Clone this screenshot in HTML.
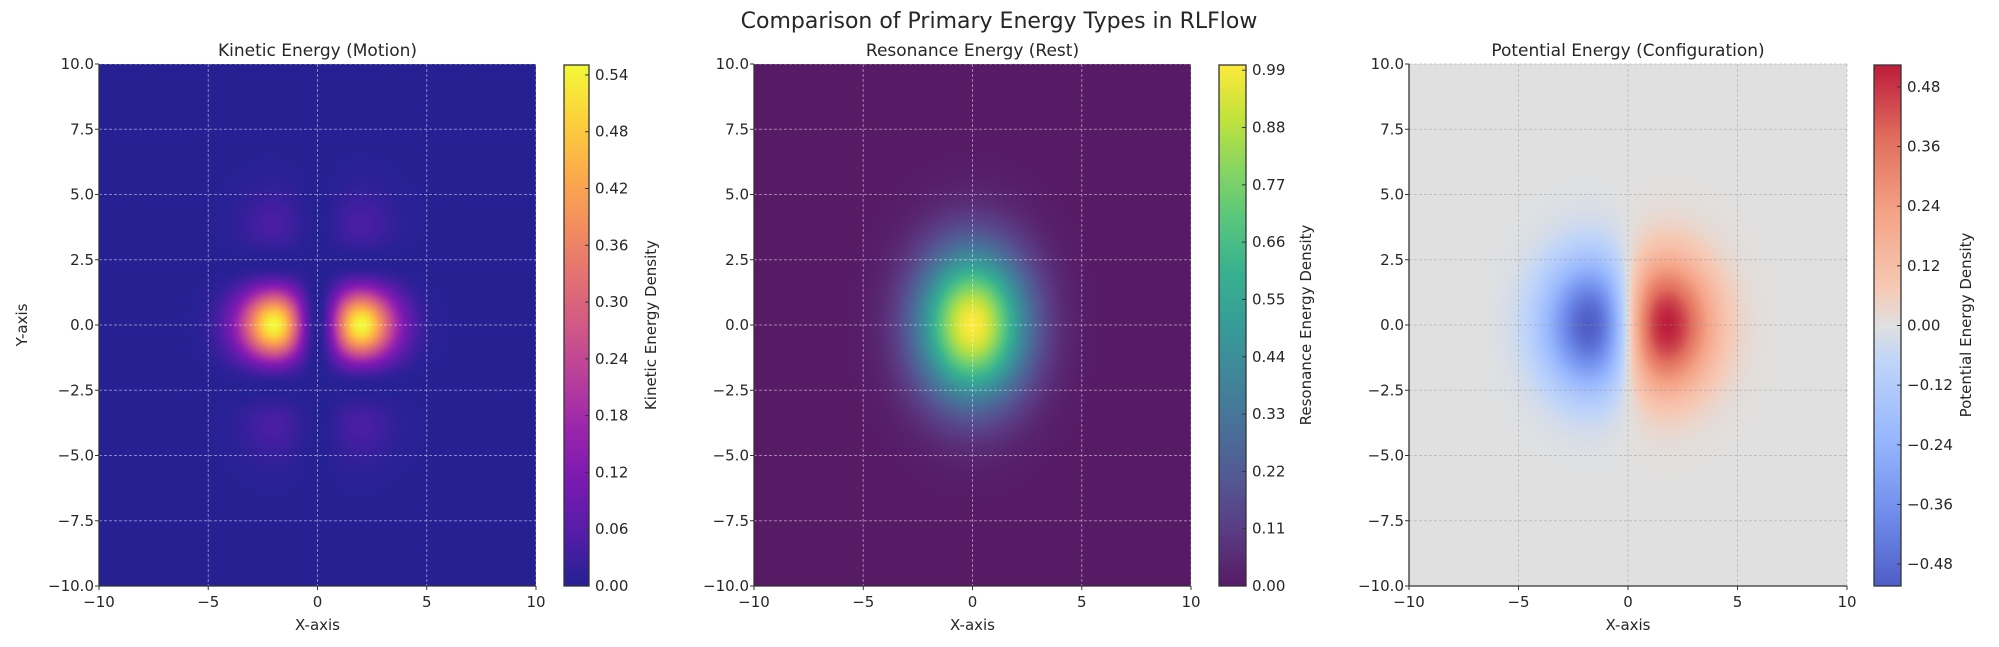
<!DOCTYPE html>
<html><head><meta charset="utf-8">
<style>
html,body{margin:0;padding:0;background:#fff;}
#wrap{position:relative;width:1999px;height:647px;overflow:hidden;font-family:"DejaVu Sans","Liberation Sans",sans-serif;}
canvas{position:absolute;}
svg{position:absolute;left:0;top:0;}
</style></head>
<body><div id="wrap">
<canvas id="c1" width="437" height="522" style="left:99px;top:64px"></canvas>
<canvas id="c2" width="437" height="522" style="left:754px;top:64px"></canvas>
<canvas id="c3" width="438" height="522" style="left:1409px;top:64px"></canvas>
<canvas id="b1" width="25" height="521" style="left:564px;top:65px"></canvas>
<canvas id="b2" width="27" height="521" style="left:1219px;top:65px"></canvas>
<canvas id="b3" width="27" height="521" style="left:1874px;top:65px"></canvas>
<svg id="s" width="1999" height="647" xmlns="http://www.w3.org/2000/svg"></svg>
</div>
<script>
(function(){
function hex(h){return [parseInt(h.substr(1,2),16),parseInt(h.substr(3,2),16),parseInt(h.substr(5,2),16)];}
var plasma=["#0d0887","#41049d","#6a00a8","#8f0da4","#b12a90","#cc4778","#e16462","#f2844b","#fca636","#fcce25","#f0f921"].map(hex);
var viridis=["#440154","#482475","#414487","#355f8d","#2a788e","#21918c","#22a884","#44bf70","#7ad151","#bddf26","#fde725"].map(hex);
var cw=[[59,76,192],[98,130,234],[141,176,254],[184,208,249],[221,221,221],[245,196,173],[244,154,123],[222,96,77],[180,4,38]];
var cwp=[0,0.143,0.286,0.429,0.5,0.571,0.714,0.857,1];
function cmapU(st,t){t=Math.max(0,Math.min(1,t));var n=st.length-1,f=t*n,i=Math.min(n-1,Math.floor(f)),u=f-i;return [0,1,2].map(function(k){return st[i][k]+(st[i+1][k]-st[i][k])*u;});}
function cmapCW(t){t=Math.max(0,Math.min(1,t));var i=0;while(i<cwp.length-2&&t>cwp[i+1])i++;var u=(t-cwp[i])/(cwp[i+1]-cwp[i]);return [0,1,2].map(function(k){return cw[i][k]+(cw[i+1][k]-cw[i][k])*u;});}
function blend(c){return c.map(function(v){return Math.round(v*0.9+25.5);});}
function K(x,y){var gx=x*x*Math.exp(-x*x/4)/(4*Math.exp(-1));var gy=Math.exp(-y*y/4.5)*Math.pow(1-y*y/6,2);return 0.55*gx*gy;}
function R(x,y){return Math.exp(-(x*x/6+y*y/8));}
function P(x,y){return 0.477*x*Math.exp(-x*x/6.5-y*y/6);}
function draw(id,f,col){var c=document.getElementById(id),ctx=c.getContext('2d'),W=c.width,H=c.height,im=ctx.createImageData(W,H);
for(var j=0;j<H;j++){var y=10-20*(j+0.5)/H;for(var i=0;i<W;i++){var x=-10+20*(i+0.5)/W;var cc=blend(col(f(x,y)));var p=(j*W+i)*4;im.data[p]=cc[0];im.data[p+1]=cc[1];im.data[p+2]=cc[2];im.data[p+3]=255;}}ctx.putImageData(im,0,0);}
draw('c1',K,function(v){return cmapU(plasma,v/0.5505);});
draw('c2',R,function(v){return cmapU(viridis,v/1.0);});
draw('c3',P,function(v){return cmapCW((v+0.524)/1.048);});
function bar(id,col){var c=document.getElementById(id),ctx=c.getContext('2d'),W=c.width,H=c.height;for(var j=0;j<H;j++){var cc=blend(col(1-(j+0.5)/H));ctx.fillStyle='rgb('+cc.join(',')+')';ctx.fillRect(0,j,W,1);}}
bar('b1',function(t){return cmapU(plasma,t);});bar('b2',function(t){return cmapU(viridis,t);});bar('b3',function(t){return cmapCW(t);});

var s='';
function T(x,y,txt,sz,anc,extra){s+='<text x="'+x+'" y="'+y+'" font-size="'+sz+'" text-anchor="'+(anc||'middle')+'" fill="#262626" '+(extra||'')+'>'+txt+'</text>';}
T(999,28,'Comparison of Primary Energy Types in RLFlow',22);
var panels=[[99,536,'Kinetic Energy (Motion)','rgba(255,255,255,0.45)'],[754,1191,'Resonance Energy (Rest)','rgba(255,255,255,0.45)'],[1409,1847,'Potential Energy (Configuration)','rgba(150,150,150,0.45)']];
var TOP=64,BOT=586;
panels.forEach(function(p){var L=p[0],Rr=p[1],w=Rr-L;
 for(var k=0;k<=4;k++){var gx=L+w*k/4;s+='<line x1="'+gx+'" y1="'+TOP+'" x2="'+gx+'" y2="'+BOT+'" stroke="'+p[3]+'" stroke-width="1" stroke-dasharray="3,2"/>';}
 for(var k=0;k<=8;k++){var gy=TOP+(BOT-TOP)*k/8;s+='<line x1="'+L+'" y1="'+gy+'" x2="'+Rr+'" y2="'+gy+'" stroke="'+p[3]+'" stroke-width="1" stroke-dasharray="3,2"/>';}
 s+='<line x1="'+L+'" y1="'+TOP+'" x2="'+L+'" y2="'+BOT+'" stroke="#333" stroke-width="1.3"/>';
 s+='<line x1="'+L+'" y1="'+BOT+'" x2="'+Rr+'" y2="'+BOT+'" stroke="#333" stroke-width="1.3"/>';
 var xl=['\u221210','\u22125','0','5','10'];
 for(var k=0;k<=4;k++){var gx=L+w*k/4;s+='<line x1="'+gx+'" y1="'+BOT+'" x2="'+gx+'" y2="'+(BOT+4)+'" stroke="#333"/>';T(gx,607,xl[k],15);}
 var yl=['10.0','7.5','5.0','2.5','0.0','\u22122.5','\u22125.0','\u22127.5','\u221210.0'];
 for(var k=0;k<=8;k++){var gy=TOP+(BOT-TOP)*k/8;s+='<line x1="'+(L-4)+'" y1="'+gy+'" x2="'+L+'" y2="'+gy+'" stroke="#333"/>';T(L-5,gy+5,yl[k],15,'end');}
 T((L+Rr)/2,56,p[2],17);
 T((L+Rr)/2,630,'X-axis',15);
});
T(0,0,'Y-axis',15,'middle','transform="translate(27,325) rotate(-90)"');
function cbar(L,R2,vmin,vmax,ticks,label,lx){s+='<rect x="'+L+'" y="65" width="'+(R2-L)+'" height="521" fill="none" stroke="#333" stroke-width="1.3"/>';
 ticks.forEach(function(v){var y=586-(v-vmin)/(vmax-vmin)*521;s+='<line x1="'+(R2-4)+'" y1="'+y+'" x2="'+R2+'" y2="'+y+'" stroke="#333"/>';T(R2+6,y+5,(v<-1e-9?'\u2212':'')+Math.abs(v).toFixed(2),15,'start');});
 T(0,0,label,15,'middle','transform="translate('+lx+',325) rotate(-90)"');}
var t1=[],t2=[],t3=[];for(var i=0;i<=9;i++){t1.push(i*0.06);t2.push(i*0.11);}for(var i=-4;i<=4;i++)t3.push(i*0.12);
cbar(564,589,0,0.5505,t1,'Kinetic Energy Density',656);
cbar(1219,1246,0,1.0,t2,'Resonance Energy Density',1311);
cbar(1874,1901,-0.524,0.524,t3,'Potential Energy Density',1971);
document.getElementById('s').innerHTML=s;
})();
</script>
</body></html>
